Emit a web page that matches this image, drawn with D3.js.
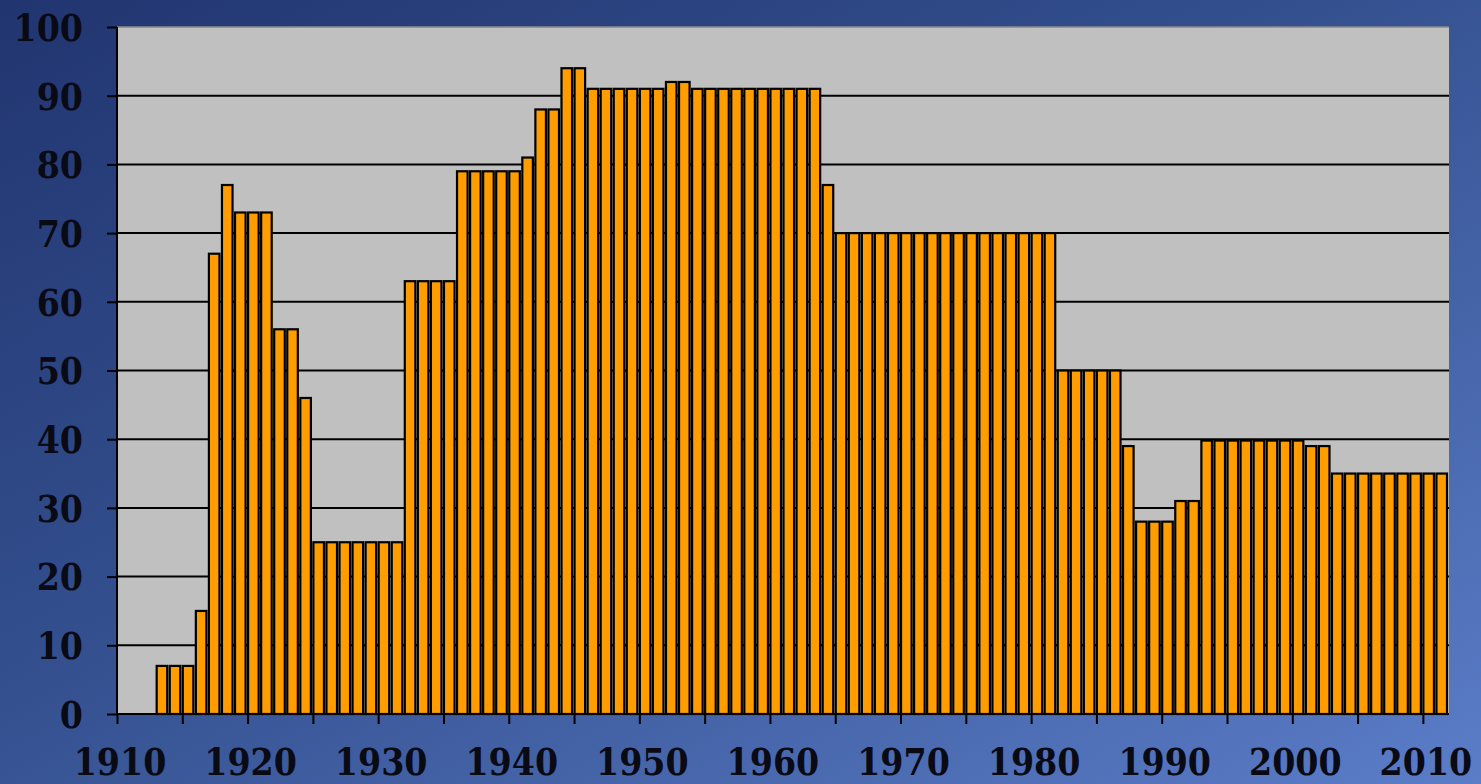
<!DOCTYPE html>
<html>
<head>
<meta charset="utf-8">
<script src="https://cdn.jsdelivr.net/npm/d3@7"></script>
<style>
html,body{margin:0;padding:0;overflow:hidden;}
svg{display:block;}
</style>
</head>
<body>
<svg id="chart" width="1481" height="784"></svg>
<script>
// Data: top marginal rate by year
const years = d3.range(1913, 2012);
const rates = [
  7, 7, 7, 15, 67, 77, 73, 73, 73, 56,          // 1913-1922
  56, 46, 25, 25, 25, 25, 25, 25, 25, 63,       // 1923-1932
  63, 63, 63, 79, 79, 79, 79, 79, 81, 88,       // 1933-1942
  88, 94, 94, 91, 91, 91, 91, 91, 91, 92,       // 1943-1952
  92, 91, 91, 91, 91, 91, 91, 91, 91, 91,       // 1953-1962
  91, 77, 70, 70, 70, 70, 70, 70, 70, 70,       // 1963-1972
  70, 70, 70, 70, 70, 70, 70, 70, 70, 50,       // 1973-1982
  50, 50, 50, 50, 39, 28, 28, 28, 31, 31,       // 1983-1992
  39.8, 39.8, 39.8, 39.8, 39.8, 39.8, 39.8, 39.8, 39, 39, // 1993-2002
  35, 35, 35, 35, 35, 35, 35, 35, 35            // 2003-2011
];
const yTicks = [0, 10, 20, 30, 40, 50, 60, 70, 80, 90, 100];
const xLabelTicks = [1910, 1920, 1930, 1940, 1950, 1960, 1970, 1980, 1990, 2000, 2010];
const xMinorTicks = d3.range(1910, 2011, 5);

const data = years.map((y, i) => ({year: y, value: rates[i]}));

const svg = d3.select("#chart");
const W = 1481, H = 784;
const m = {left: 117, right: 1449, top: 27, bottom: 714};
const labelFont = "'DejaVu Serif', serif";
const labelSize = "37px";
const sx = 0.9;

// background gradient
const defs = svg.append("defs");
const grad = defs.append("linearGradient").attr("id", "bg")
  .attr("x1", "0%").attr("y1", "0%").attr("x2", "100%").attr("y2", "100%");
grad.append("stop").attr("offset", "0%").attr("stop-color", "#213570");
grad.append("stop").attr("offset", "45%").attr("stop-color", "#34508f");
grad.append("stop").attr("offset", "100%").attr("stop-color", "#5b7dc8");
svg.append("rect").attr("width", W).attr("height", H).attr("fill", "url(#bg)");

const x = d3.scaleLinear().domain([1910, 2012]).range([m.left, m.right]);
const y = d3.scaleLinear().domain([0, 100]).range([m.bottom, m.top]);

// plot area
svg.append("rect")
  .attr("x", m.left).attr("y", m.top)
  .attr("width", m.right - m.left).attr("height", m.bottom - m.top)
  .attr("fill", "#c0c0c0");
// top border (grey)
svg.append("line")
  .attr("x1", m.left).attr("x2", m.right)
  .attr("y1", y(100)).attr("y2", y(100))
  .attr("stroke", "#8a8a8a").attr("stroke-width", 1.5);

// gridlines
svg.append("g").selectAll("line")
  .data(yTicks.filter(t => t > 0 && t < 100))
  .join("line")
  .attr("x1", m.left).attr("x2", m.right)
  .attr("y1", d => y(d)).attr("y2", d => y(d))
  .attr("stroke", "#000").attr("stroke-width", 2);

// bars
const step = x(1911) - x(1910);
svg.append("g").selectAll("rect")
  .data(data)
  .join("rect")
  .attr("x", d => x(d.year) + 0.5)
  .attr("y", d => y(d.value))
  .attr("width", step - 2.5)
  .attr("height", d => y(0) - y(d.value))
  .attr("fill", "#ff9c00")
  .attr("stroke", "#000")
  .attr("stroke-width", 2.2);

// y axis
const yAxis = d3.axisLeft(y).tickValues(yTicks).tickSize(10).tickFormat(d3.format("d"));
const gy = svg.append("g").attr("transform", `translate(${m.left},0)`).call(yAxis);
gy.select(".domain").attr("stroke", "#000").attr("stroke-width", 2).attr("d", `M0,${m.top}V${m.bottom}`);
gy.selectAll(".tick line").attr("stroke", "#000").attr("stroke-width", 2);
gy.selectAll(".tick text")
  .attr("x", 0)
  .attr("dy", "0.36em")
  .attr("transform", `translate(-34,0) scale(${sx},1)`)
  .attr("fill", "#0a0a14")
  .style("font-family", labelFont)
  .style("font-weight", "bold")
  .style("font-size", labelSize);

// x axis minor ticks
const xAxis = d3.axisBottom(x).tickValues(xMinorTicks).tickSize(10).tickFormat("");
const gx = svg.append("g").attr("transform", `translate(0,${m.bottom})`).call(xAxis);
gx.select(".domain").attr("stroke", "#000").attr("stroke-width", 2).attr("d", `M${m.left},0H${m.right}`);
gx.selectAll(".tick line").attr("stroke", "#000").attr("stroke-width", 2);

// x labels
svg.append("g").selectAll("text")
  .data(xLabelTicks)
  .join("text")
  .attr("transform", d => `translate(${x(d) + 3},775) scale(${sx},1)`)
  .attr("text-anchor", "middle")
  .attr("fill", "#0a0a14")
  .style("font-family", labelFont)
  .style("font-weight", "bold")
  .style("font-size", labelSize)
  .text(d => d);
</script>
</body>
</html>
